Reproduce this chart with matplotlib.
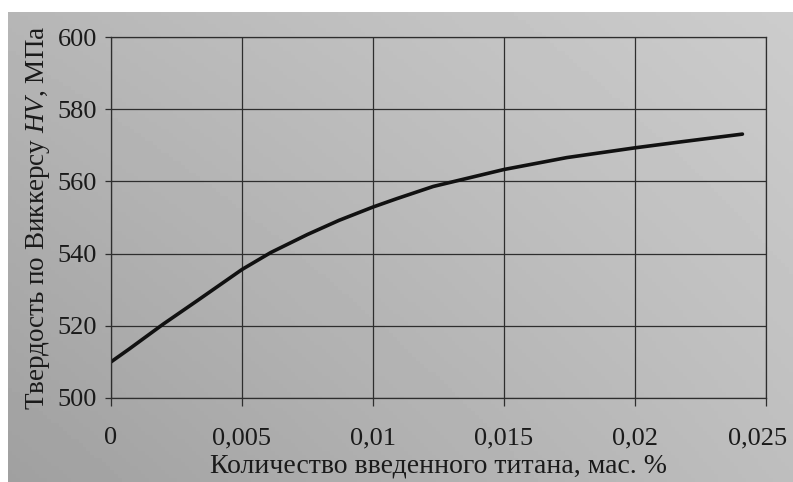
import numpy as np
import matplotlib.pyplot as plt
from matplotlib.transforms import ScaledTranslation

plt.rcParams['font.family'] = ['Liberation Serif', 'DejaVu Serif']
plt.rcParams['mathtext.fontset'] = 'custom'
plt.rcParams['mathtext.it'] = 'Liberation Serif:italic'
plt.rcParams['mathtext.rm'] = 'Liberation Serif'

# содержание титана, мас. % и твердость HV, МПа
ti = [0, 0.0007, 0.002, 0.0033, 0.005, 0.0061, 0.0075, 0.0087, 0.01,
      0.0109, 0.0123, 0.015, 0.0174, 0.02, 0.0218, 0.0241]
hv = [510, 513.6, 520.5, 527.0, 535.6, 540.3, 545.3, 549.2, 552.9,
      555.2, 558.6, 563.3, 566.6, 569.3, 571.0, 573.1]

xticks = [0, 0.005, 0.01, 0.015, 0.02, 0.025]
xlabels = ['0', '0,005', '0,01', '0,015', '0,02', '0,025']
yticks = [500, 520, 540, 560, 580, 600]

fig = plt.figure(figsize=(7.93, 4.82), dpi=100)
fig.patch.set_facecolor('white')

# серый фон листа
bg = fig.add_axes([8/793, 0, 1 - 8/793, 1 - 12/482], zorder=0)
gx, gy = np.meshgrid(np.linspace(0, 1, 200), np.linspace(0, 1, 120))
shade = 160 + 30 * gx + 22 * (1 - gy) - 8 * gx * (1 - gy)
bg.imshow(shade, cmap='gray', vmin=0, vmax=255, aspect='auto',
          extent=[0, 1, 0, 1], origin='upper')
bg.set_axis_off()

ax = fig.add_axes([111/793, 1 - 398/482, (766 - 111)/793, (398 - 37)/482], zorder=1)
ax.patch.set_alpha(0)
ax.plot(ti, hv, color='#111111', lw=2.6, solid_capstyle='round',
        solid_joinstyle='round')

ax.set_xlim(0, 0.025)
ax.set_ylim(500, 600)
ax.set_xticks(xticks)
ax.set_xticklabels(xlabels)
ax.set_yticks(yticks)
ax.grid(True, color='#2e2e2e', lw=0.9)
for s in ax.spines.values():
    s.set_color('#2e2e2e')
    s.set_linewidth(0.9)
ax.tick_params(axis='x', direction='out', length=6, width=0.9, color='#2e2e2e',
               pad=15, labelsize=19, labelcolor='#1a1a1a')
ax.tick_params(axis='y', direction='out', length=4, width=0.9, color='#2e2e2e',
               pad=6, labelsize=19, labelcolor='#1a1a1a')

# последняя подпись у правого края — чуть сдвигаем, чтобы не обрезалась
last = ax.get_xticklabels()[-1]
last.set_transform(last.get_transform() + ScaledTranslation(-6/72, 0, fig.dpi_scale_trans))

ax.set_xlabel('Количество введенного титана, мас. %', fontsize=20,
              color='#1a1a1a', labelpad=3)
ax.set_ylabel('Твердость по Виккерсу $HV$, МПа', fontsize=19.5,
              color='#1a1a1a', labelpad=4)

fig.savefig('out.png', dpi=100)
